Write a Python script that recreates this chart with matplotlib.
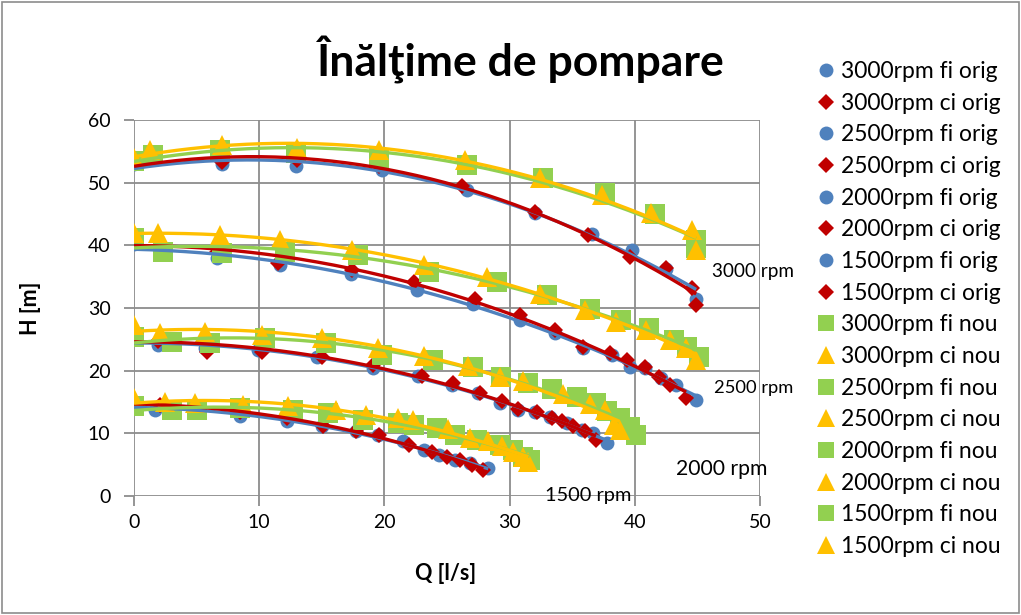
import numpy as np
import matplotlib.pyplot as plt
from matplotlib.lines import Line2D
from matplotlib.patches import Rectangle

plt.rcParams['font.family'] = ['Lato', 'DejaVu Sans']

# --- 3000 rpm ---
q_3000_fi_orig = [0, 7.0, 12.9, 19.8, 26.6, 32.0, 36.6, 39.8, 42.5, 44.9]
h_3000_fi_orig = [53.0, 52.9, 52.6, 52.1, 48.8, 45.1, 41.8, 39.3, 36.3, 31.5]
q_3000_ci_orig = [0, 7.0, 13.0, 19.6, 26.2, 32.0, 36.3, 39.6, 42.5, 44.6, 44.9]
h_3000_ci_orig = [53.2, 53.3, 53.6, 52.6, 49.4, 45.3, 41.6, 38.2, 36.4, 33.2, 30.5]
q_3000_fi_nou = [0, 1.5, 6.9, 12.9, 19.6, 26.6, 32.7, 37.6, 41.6, 44.9, 44.9]
h_3000_fi_nou = [53.5, 54.4, 55.2, 54.7, 54.0, 52.8, 50.7, 48.3, 45.0, 40.8, 39.5]
q_3000_ci_nou = [0, 1.3, 7.0, 13.0, 19.6, 26.4, 32.4, 37.4, 41.3, 44.6, 44.9]
h_3000_ci_nou = [53.9, 55.2, 56.0, 55.5, 55.2, 53.6, 50.7, 48.0, 45.1, 42.4, 39.3]

# --- 2500 rpm ---
q_2500_fi_orig = [0, 2.1, 6.6, 11.7, 17.3, 22.6, 27.1, 30.8, 33.6, 35.9, 38.2, 39.6, 40.8, 42.1, 43.3, 44.9]
h_2500_fi_orig = [40.2, 39.0, 37.9, 36.9, 35.5, 32.9, 30.7, 28.1, 26.0, 23.6, 22.5, 20.6, 20.4, 18.8, 17.7, 15.3]
q_2500_ci_orig = [0, 2.1, 6.6, 11.5, 17.4, 22.4, 27.2, 30.8, 33.6, 35.9, 38.0, 39.4, 40.8, 41.9, 42.8, 44.1]
h_2500_ci_orig = [40.7, 40.0, 39.0, 37.2, 36.0, 34.2, 31.5, 28.9, 26.5, 23.8, 22.8, 21.7, 20.6, 19.0, 17.7, 15.6]
q_2500_fi_nou = [0, 2.3, 7.0, 12.1, 17.9, 23.6, 29.0, 33.0, 36.4, 38.9, 41.1, 43.1, 44.2, 45.1]
h_2500_fi_nou = [41.1, 39.0, 38.7, 39.0, 38.5, 35.8, 34.2, 32.1, 29.9, 28.1, 26.8, 24.9, 23.8, 22.2]
q_2500_ci_nou = [0, 1.9, 6.9, 11.7, 17.4, 23.2, 28.2, 32.4, 36.0, 38.5, 40.9, 42.8, 44.1, 44.9]
h_2500_ci_nou = [42.0, 42.0, 41.6, 40.8, 39.3, 36.9, 35.0, 32.3, 29.7, 27.8, 26.5, 24.9, 23.6, 21.7]

# --- 2000 rpm ---
q_2000_fi_orig = [0, 1.9, 5.7, 9.9, 14.6, 19.1, 22.7, 25.4, 27.5, 29.2, 30.7, 32.0, 33.2, 34.6, 35.8, 36.7, 37.8]
h_2000_fi_orig = [25.0, 24.1, 23.6, 23.3, 22.2, 20.4, 19.2, 17.7, 16.4, 14.8, 13.7, 13.4, 12.6, 11.6, 10.5, 10.0, 8.4]
q_2000_ci_orig = [0, 1.9, 5.8, 10.2, 15.0, 19.1, 23.0, 25.5, 27.6, 29.4, 30.7, 32.2, 33.4, 34.2, 35.1, 36.0, 36.9]
h_2000_ci_orig = [25.4, 24.8, 23.0, 23.0, 22.2, 20.9, 19.1, 18.0, 16.4, 15.1, 13.9, 13.4, 12.4, 11.9, 11.1, 10.3, 8.9]
q_2000_fi_nou = [0, 3.0, 6.1, 10.5, 15.3, 19.8, 23.9, 27.1, 29.3, 31.5, 33.4, 35.4, 36.9, 37.8, 38.8, 39.6, 40.1]
h_2000_fi_nou = [25.4, 24.6, 24.4, 25.2, 24.4, 22.5, 21.7, 20.6, 19.0, 18.0, 17.0, 15.8, 14.8, 13.6, 12.4, 11.0, 9.8]
q_2000_ci_nou = [0, 2.1, 5.7, 10.2, 15.0, 19.5, 23.2, 26.7, 29.2, 31.1, 34.3, 36.4, 37.6, 38.3, 38.8]
h_2000_ci_nou = [27.3, 26.0, 26.2, 25.7, 25.2, 23.6, 22.3, 20.8, 19.0, 18.3, 16.3, 14.7, 13.8, 11.3, 10.5]

# --- 1500 rpm ---
q_1500_fi_orig = [0, 1.7, 8.5, 12.2, 15.0, 17.7, 19.5, 21.5, 23.2, 24.4, 25.6, 26.8, 28.3]
h_1500_fi_orig = [14.6, 13.7, 12.7, 11.9, 11.1, 10.3, 9.7, 8.7, 7.3, 6.5, 5.7, 5.2, 4.5]
q_1500_ci_orig = [0, 2.1, 8.5, 12.2, 15.1, 17.7, 19.6, 22.0, 23.8, 25.0, 26.0, 27.0, 27.9]
h_1500_ci_orig = [14.8, 14.5, 13.4, 12.4, 11.1, 10.3, 9.7, 8.1, 7.1, 6.3, 5.7, 4.9, 4.1]
q_1500_fi_nou = [0, 3.0, 5.0, 8.5, 12.7, 15.5, 18.3, 21.1, 22.4, 24.2, 25.6, 27.4, 29.2, 30.3, 31.1, 31.6]
h_1500_fi_nou = [14.3, 13.7, 13.7, 14.0, 13.7, 13.2, 12.1, 11.6, 11.3, 10.8, 9.7, 8.9, 8.1, 7.3, 6.3, 5.8]
q_1500_ci_nou = [0, 2.5, 4.9, 8.7, 12.3, 16.1, 18.5, 21.1, 22.3, 25.1, 26.8, 28.3, 29.4, 30.3, 31.1, 31.5]
h_1500_ci_nou = [15.6, 15.0, 14.8, 14.5, 14.3, 13.7, 12.9, 12.4, 12.1, 10.7, 9.2, 8.7, 7.9, 7.1, 6.3, 5.4]

speeds = ['3000', '2500', '2000', '1500']
curve_labels = ['3000 rpm', '2500 rpm', '2000 rpm', '1500 rpm']

# stil pentru fiecare tip de serie: culoare, marker, marime grafic, marime legenda
styles = {
    'fi orig': ('#4F81BD', 'o', 10, 10),
    'ci orig': ('#C00000', 'D', 8.5, 8),
    'fi nou': ('#92D050', 's', 14, 12),
    'ci nou': ('#FFC000', '^', 15, 13),
}

data = {
    ('3000', 'fi orig'): (q_3000_fi_orig, h_3000_fi_orig),
    ('3000', 'ci orig'): (q_3000_ci_orig, h_3000_ci_orig),
    ('3000', 'fi nou'): (q_3000_fi_nou, h_3000_fi_nou),
    ('3000', 'ci nou'): (q_3000_ci_nou, h_3000_ci_nou),
    ('2500', 'fi orig'): (q_2500_fi_orig, h_2500_fi_orig),
    ('2500', 'ci orig'): (q_2500_ci_orig, h_2500_ci_orig),
    ('2500', 'fi nou'): (q_2500_fi_nou, h_2500_fi_nou),
    ('2500', 'ci nou'): (q_2500_ci_nou, h_2500_ci_nou),
    ('2000', 'fi orig'): (q_2000_fi_orig, h_2000_fi_orig),
    ('2000', 'ci orig'): (q_2000_ci_orig, h_2000_ci_orig),
    ('2000', 'fi nou'): (q_2000_fi_nou, h_2000_fi_nou),
    ('2000', 'ci nou'): (q_2000_ci_nou, h_2000_ci_nou),
    ('1500', 'fi orig'): (q_1500_fi_orig, h_1500_fi_orig),
    ('1500', 'ci orig'): (q_1500_ci_orig, h_1500_ci_orig),
    ('1500', 'fi nou'): (q_1500_fi_nou, h_1500_fi_nou),
    ('1500', 'ci nou'): (q_1500_ci_nou, h_1500_ci_nou),
}

fig = plt.figure(figsize=(10.21, 6.15), dpi=100)
ax = fig.add_axes([134 / 1021, 1 - 496 / 615, 626 / 1021, 376 / 615])

# rama exterioara a graficului
fig.patches.append(Rectangle((0.002, 0.004), 0.996, 0.992, transform=fig.transFigure,
                             fill=False, edgecolor='#8c8c8c', lw=1.2))

legend_handles = []
for kind in ['fi orig', 'ci orig', 'fi nou', 'ci nou']:
    color, marker, ms, _ = styles[kind]
    for rpm in speeds:
        q, h = data[(rpm, kind)]
        q = np.array(q)
        h = np.array(h)
        ax.plot(q, h, linestyle='none', marker=marker, ms=ms, color=color,
                markeredgewidth=0, zorder=3)
        # linie de tendinta polinomiala (ordin 2)
        coef = np.polyfit(q, h, 2)
        qq = np.linspace(q.min(), q.max(), 200)
        ax.plot(qq, np.polyval(coef, qq), color=color, lw=2.4, zorder=4,
                solid_capstyle='butt')

for kind in ['orig', 'nou']:
    for rpm in speeds:
        for part in ['fi', 'ci']:
            key = part + ' ' + kind
            color, marker, _, lms = styles[key]
            legend_handles.append(Line2D([], [], linestyle='none', marker=marker,
                                         ms=lms, color=color, markeredgewidth=0,
                                         label=f'{rpm}rpm {key}'))

ax.set_xlim(0, 50)
ax.set_ylim(0, 60)
ax.set_xticks(range(0, 51, 10))
ax.set_yticks(range(0, 61, 10))
ax.grid(True, color='#8c8c8c', lw=1.3)
ax.set_axisbelow(True)
for s in ax.spines.values():
    s.set_visible(False)
ax.tick_params(axis='both', labelsize=14, length=7, width=1.3, color='#8c8c8c',
               direction='out')
ax.tick_params(axis='y', pad=10)
ax.tick_params(axis='x', pad=6)
ax.set_xlabel('Q [l/s]', fontsize=15.5, fontweight='bold', va='center')
ax.set_ylabel('H [m]', fontsize=15.5, fontweight='bold', va='center')
ax.xaxis.set_label_coords(0.498, -0.205)
ax.yaxis.set_label_coords(-0.166, 0.5)

fig.text(520 / 1021, 1 - 60 / 615, 'Înălţime de pompare', fontsize=32,
         fontweight='bold', ha='center', va='center')

# etichete pentru fiecare turatie
label_pos = [(46.2, 35.9, 13.6), (46.3, 17.2, 13.2), (43.3, 4.3, 15.2), (32.8, 0.0, 14.4)]
for text, (x, y, fs) in zip(curve_labels, label_pos):
    ax.text(x, y, text, fontsize=fs, ha='left', va='center', clip_on=False)

fig.legend(handles=legend_handles, loc='upper left',
           bbox_to_anchor=(805 / 1021, 1 - 52 / 615), frameon=False,
           fontsize=16.5, labelspacing=0.465, handletextpad=0.15,
           handlelength=1.0, borderaxespad=0)

fig.savefig('out.png', dpi=100, facecolor='white')
